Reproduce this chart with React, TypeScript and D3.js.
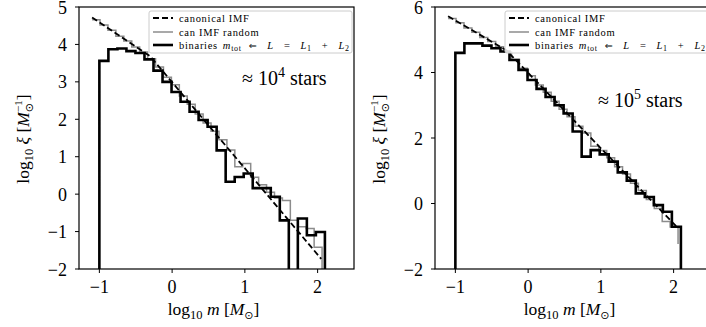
import React from "react";
import * as d3 from "d3";

// ---------- data ----------
const X_TICKS = [-1, 0, 1, 2];
const LEFT_Y_TICKS = [-2, -1, 0, 1, 2, 3, 4, 5];
const RIGHT_Y_TICKS = [-2, 0, 2, 4, 6];
const X_DOMAIN = [-1.28, 2.5];
const LEFT_Y_DOMAIN = [-2, 5];
const RIGHT_Y_DOMAIN = [-2, 6];

// canonical (Kroupa) IMF, log10 m vs log10 xi
const CANON_LEFT: [number, number][] = [[-1.1, 4.72], [-0.3, 3.68], [2.05, -1.73]];
const CANON_RIGHT: [number, number][] = [[-1.1, 5.72], [-0.3, 4.68], [2.05, -0.73]];

// random-sampled canonical IMF histogram (bin edges in log10 m)
const GRAY_EDGES = [-1.1, -0.991, -0.882, -0.773, -0.664, -0.555, -0.446, -0.337, -0.228, -0.119, -0.01,
  0.099, 0.208, 0.317, 0.426, 0.535, 0.644, 0.753, 0.862, 0.971, 1.08, 1.189, 1.298, 1.407, 1.516,
  1.625, 1.734, 1.843, 1.952, 2.061];
const GRAY_LEFT = [4.66, 4.52, 4.38, 4.22, 4.09, 3.93, 3.8, 3.62, 3.4, 3.12, 2.92, 2.62, 2.4, 2.14, 1.9,
  1.68, 1.45, 1.18, 0.73, 0.82, 0.45, 0.25, 0.05, -0.1, -0.17, -0.7, -0.87, -0.92, -1.42];
const GRAY_LEFT_END = -3;
const GRAY_RIGHT = [5.65, 5.52, 5.36, 5.23, 5.07, 4.95, 4.79, 4.63, 4.4, 4.13, 3.9, 3.62, 3.4, 3.12, 2.88,
  2.65, 2.36, 2.15, 1.75, 1.62, 1.4, 1.12, 0.9, 0.62, 0.4, 0.12, -0.15, -0.55, -0.72];
const GRAY_RIGHT_END = -1.24;

// binaries m_tot histogram
const BIN_EDGES = [-1.0, -0.876, -0.752, -0.628, -0.504, -0.38, -0.256, -0.132, -0.008, 0.116, 0.24,
  0.364, 0.488, 0.612, 0.736, 0.86, 0.984, 1.108, 1.232, 1.356, 1.48, 1.604, 1.728, 1.852, 1.976, 2.1];
const BIN_LEFT: (number | null)[] = [3.56, 3.87, 3.89, 3.82, 3.77, 3.6, 3.3, 3.0, 2.73, 2.47, 2.2, 1.98, 1.8,
  1.17, 0.33, 0.46, 0.55, 0.16, 0.16, -0.07, -0.7, null, -0.65, -1.1, -1.01];
const BIN_RIGHT: (number | null)[] = [4.6, 4.89, 4.89, 4.82, 4.74, 4.64, 4.38, 4.08, 3.77, 3.5, 3.25, 3.0,
  2.75, 2.2, 1.43, 1.63, 1.5, 1.28, 0.95, 0.7, 0.31, 0.2, -0.05, -0.25, -0.71];

const LEGEND_LABELS = ["canonical IMF", "can IMF random"];

// ---------- layout ----------
const W = 706, H = 327;
const PW = 275, PT = 7, PB = 269;
const FONT = "Liberation Serif, DejaVu Serif, serif";

type PanelProps = {
  x0: number; id: string; yDomain: number[]; yTicks: number[];
  canon: [number, number][]; gray: number[]; grayEnd: number; bins: (number | null)[];
  exp: string; starsY: number;
};

function Panel({ x0, id, yDomain, yTicks, canon, gray, grayEnd, bins, exp, starsY }: PanelProps) {
  const x = d3.scaleLinear().domain(X_DOMAIN).range([x0, x0 + PW]);
  const y = d3.scaleLinear().domain(yDomain).range([PB, PT]);
  const below = yDomain[0] - 1;
  const line = d3.line<[number, number]>().x(d => x(d[0])).y(d => y(d[1]));
  const step = d3.line<[number, number]>().x(d => x(d[0])).y(d => y(d[1])).curve(d3.curveStepAfter);

  const lastG = GRAY_EDGES[GRAY_EDGES.length - 1];
  const grayPts: [number, number][] = gray.map((v, i) => [GRAY_EDGES[i], v]);
  grayPts.push([lastG, gray[gray.length - 1]]);
  const grayPath = step(grayPts) + `L${x(lastG)},${y(grayEnd)}`;

  const lastB = BIN_EDGES[BIN_EDGES.length - 1];
  const binPts: [number, number][] = [[BIN_EDGES[0], below]];
  bins.forEach((v, i) => binPts.push([BIN_EDGES[i], v == null ? below : v]));
  binPts.push([lastB, bins[bins.length - 1] ?? below]);
  const binPath = step(binPts) + `L${x(lastB)},${y(below)}`;

  const lx = x0 + 70, ly = 11, lw = 203, lh = 42;
  const rows = [18, 32, 45];
  const tx = lx + 30;

  return (
    <g>
      <defs>
        <clipPath id={id}>
          <rect x={x0} y={PT} width={PW} height={PB - PT} />
        </clipPath>
      </defs>
      <g clipPath={`url(#${id})`}>
        <path d={grayPath} fill="none" stroke="#8c8c8c" strokeWidth={1.5} />
        <path d={binPath} fill="none" stroke="#000" strokeWidth={2.6} />
        <path d={line(canon) || ""} fill="none" stroke="#000" strokeWidth={1.8} strokeDasharray="6,3" />
      </g>
      <rect x={x0} y={PT} width={PW} height={PB - PT} fill="none" stroke="#000" strokeWidth={1.2} />
      {yTicks.map(t => (
        <g key={t}>
          <line x1={x0 - 4} x2={x0} y1={y(t)} y2={y(t)} stroke="#000" strokeWidth={1} />
          <text x={x0 - 12} y={y(t) + 6.5} textAnchor="end" fontSize={18} fontFamily={FONT}>
            {t < 0 ? `\u2212${-t}` : `${t}`}
          </text>
        </g>
      ))}
      {X_TICKS.map(t => (
        <g key={t}>
          <line x1={x(t)} x2={x(t)} y1={PB} y2={PB + 4} stroke="#000" strokeWidth={1} />
          <text x={x(t)} y={PB + 24} textAnchor="middle" fontSize={18} fontFamily={FONT}>
            {t < 0 ? `\u2212${-t}` : `${t}`}
          </text>
        </g>
      ))}
      <text x={x0 + PW / 2 - 3} y={315} textAnchor="middle" fontSize={17.5} fontFamily={FONT}>
        log<tspan fontSize={12.5} dy={4}>10</tspan>
        <tspan dy={-4} fontStyle="italic"> m</tspan>
        <tspan> [</tspan>
        <tspan fontStyle="italic">M</tspan>
        <tspan fontSize={11} dy={4} fontFamily="DejaVu Sans">⊙</tspan>
        <tspan dy={-4}>]</tspan>
      </text>
      <text transform={`translate(${x0 - 50},${(PT + PB) / 2 + 1}) rotate(-90)`} textAnchor="middle"
        fontSize={17.5} fontFamily={FONT}>
        log<tspan fontSize={12.5} dy={4}>10</tspan>
        <tspan dy={-4} fontStyle="italic"> ξ</tspan>
        <tspan> [</tspan>
        <tspan fontStyle="italic">M</tspan>
        <tspan fontSize={11} dy={4} fontFamily="DejaVu Sans">⊙</tspan>
        <tspan fontSize={11} dx={-9} dy={-11}>−1</tspan>
        <tspan dy={7}>]</tspan>
      </text>
      <rect x={lx} y={ly} width={lw} height={lh} rx={2} fill="#fff" fillOpacity={0.85} stroke="#cccccc" strokeWidth={1} />
      <line x1={lx + 4} x2={lx + 24} y1={rows[0]} y2={rows[0]} stroke="#000" strokeWidth={1.8} strokeDasharray="6,3" />
      <line x1={lx + 4} x2={lx + 24} y1={rows[1]} y2={rows[1]} stroke="#8c8c8c" strokeWidth={1.5} />
      <line x1={lx + 4} x2={lx + 24} y1={rows[2]} y2={rows[2]} stroke="#000" strokeWidth={2.6} />
      {LEGEND_LABELS.map((l, i) => (
        <text key={l} x={tx} y={rows[i] + 3.5} fontSize={10.5} letterSpacing={0.7} fontFamily={FONT}>{l}</text>
      ))}
      <text x={tx} y={rows[2] + 3.5} fontSize={10.5} letterSpacing={0.7} fontFamily={FONT}>
        binaries<tspan dx={5} fontStyle="italic">m</tspan>
        <tspan fontSize={8} dy={2.5}>tot</tspan>
        <tspan dy={-2.5} dx={7} fontFamily="DejaVu Sans" fontSize={9.5}>⇐</tspan>
        <tspan dx={10} fontStyle="italic">L</tspan>
        <tspan dx={10}>=</tspan>
        <tspan dx={10} fontStyle="italic">L</tspan>
        <tspan fontSize={8} dy={2.5}>1</tspan>
        <tspan dy={-2.5} dx={10}>+</tspan>
        <tspan dx={10} fontStyle="italic">L</tspan>
        <tspan fontSize={8} dy={2.5}>2</tspan>
      </text>
      <text x={x0 + 163} y={starsY} fontSize={20} fontFamily={FONT}>
        ≈ 10<tspan fontSize={14} dy={-8}>{exp}</tspan><tspan dy={8}> stars</tspan>
      </text>
    </g>
  );
}

export default function App() {
  return (
    <svg width={W} height={H} style={{ position: "absolute", left: 0, top: 0, background: "#fff" }}>
      <rect width={W} height={H} fill="#fff" />
      <Panel x0={79} id="clipL" yDomain={LEFT_Y_DOMAIN} yTicks={LEFT_Y_TICKS} canon={CANON_LEFT}
        gray={GRAY_LEFT} grayEnd={GRAY_LEFT_END} bins={BIN_LEFT} exp="4" starsY={85} />
      <Panel x0={435} id="clipR" yDomain={RIGHT_Y_DOMAIN} yTicks={RIGHT_Y_TICKS} canon={CANON_RIGHT}
        gray={GRAY_RIGHT} grayEnd={GRAY_RIGHT_END} bins={BIN_RIGHT} exp="5" starsY={107} />
    </svg>
  );
}
